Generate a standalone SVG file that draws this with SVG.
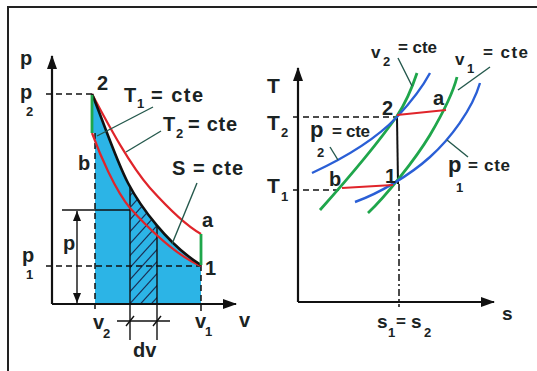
<svg xmlns="http://www.w3.org/2000/svg" width="537" height="371" viewBox="0 0 537 371">
<defs>
<style>
text{font-family:"Liberation Sans",Arial,sans-serif;font-weight:bold;fill:#1a2323}
.big{font-size:20px}
.sub{font-size:13px}
.mid{font-size:17px}
.ax{stroke:#111;stroke-width:2.2;fill:none}
.thin{stroke:#111;stroke-width:1.4;fill:none}
.dash{stroke:#111;stroke-width:1.5;stroke-dasharray:6 4;fill:none}
.dd{stroke:#111;stroke-width:1.5;stroke-dasharray:7 3 2 3;fill:none}
.red{stroke:#e0242a;stroke-width:2.2;fill:none}
.grn{stroke:#1fa64b;stroke-width:2.8;fill:none}
.blu{stroke:#2a5fd6;stroke-width:2.4;fill:none}
.lead{stroke:#24584c;stroke-width:1.4;fill:none}
.hatch{stroke:#1b2f55;stroke-width:1.2}
</style>
<marker id="arr" viewBox="0 0 14 10" refX="13" refY="5" markerWidth="14" markerHeight="10" markerUnits="userSpaceOnUse" orient="auto">
<path d="M0,0 L14,5 L0,10 Z" fill="#111"/>
</marker>
<marker id="arrs" viewBox="0 0 10 8" refX="10" refY="4" markerWidth="10" markerHeight="8" markerUnits="userSpaceOnUse" orient="auto-start-reverse">
<path d="M0,0 L10,4 L0,8 Z" fill="#111"/>
</marker>
<clipPath id="strip">
<path d="M130,187 L143,208 L157,227 L157,304 L130,304 Z"/>
</clipPath>
</defs>
<rect width="537" height="371" fill="#fff"/>
<path d="M8,371 L8,7 L537,7" stroke="#222" stroke-width="2" fill="none"/>

<g id="pv-diagram">
<g id="fill">
<path d="M92,94 C102,118 116,160 128,183 C140,206 168,245 201,265 L201,304 L95,304 L95,133 L92,133 Z" fill="#2cb4e6"/>
</g>
<g id="hatch" clip-path="url(#strip)">
<line class="hatch" x1="126" y1="200" x2="162" y2="160"/>
<line class="hatch" x1="126" y1="212" x2="162" y2="172"/>
<line class="hatch" x1="126" y1="224" x2="162" y2="184"/>
<line class="hatch" x1="126" y1="236" x2="162" y2="196"/>
<line class="hatch" x1="126" y1="248" x2="162" y2="208"/>
<line class="hatch" x1="126" y1="260" x2="162" y2="220"/>
<line class="hatch" x1="126" y1="272" x2="162" y2="232"/>
<line class="hatch" x1="126" y1="284" x2="162" y2="244"/>
<line class="hatch" x1="126" y1="296" x2="162" y2="256"/>
<line class="hatch" x1="126" y1="308" x2="162" y2="268"/>
<line class="hatch" x1="126" y1="320" x2="162" y2="280"/>
<line class="hatch" x1="126" y1="332" x2="162" y2="292"/>
</g>
<g id="pv-connectors">
<line class="ax" x1="52" y1="304" x2="52" y2="56" marker-end="url(#arr)"/>
<line class="ax" x1="52" y1="304" x2="236" y2="304" marker-end="url(#arr)"/>
<line class="dash" x1="46" y1="94" x2="92" y2="94"/>
<line class="dash" x1="46" y1="266" x2="201" y2="266"/>
<line class="dash" x1="95" y1="133" x2="95" y2="312"/>
<line class="dash" x1="201" y1="265" x2="201" y2="312"/>
<line class="thin" x1="62" y1="210" x2="130" y2="210"/>
<line class="thin" x1="77" y1="211" x2="77" y2="303" marker-start="url(#arrs)" marker-end="url(#arrs)"/>
<line class="thin" x1="130" y1="187" x2="130" y2="340"/>
<line class="thin" x1="157" y1="227" x2="157" y2="340"/>
<line class="thin" x1="117" y1="321" x2="170" y2="321"/>
<line class="thin" x1="126" y1="326" x2="134" y2="316"/>
<line class="thin" x1="153" y1="326" x2="161" y2="316"/>
<path class="red" d="M92,94 C110,128 130,165 150,188 C168,208 185,225 201,234"/>
<path class="red" d="M92,133 C100,155 115,190 130,208 C150,230 175,255 201,266"/>
<path d="M92,94 C102,118 116,160 128,183 C140,206 168,245 201,265" stroke="#111" stroke-width="2.6" fill="none"/>
<line class="grn" x1="92" y1="95" x2="92" y2="133"/>
<line class="grn" x1="201" y1="234" x2="201" y2="265"/>
<line class="lead" x1="153" y1="107" x2="97" y2="136"/>
<line class="lead" x1="161" y1="131" x2="126" y2="152"/>
<line class="lead" x1="197" y1="183" x2="172" y2="244"/>
</g>
<g id="pv-labels">
<text class="big" x="20" y="65">p</text>
<text class="big" x="20" y="99">p</text><text class="sub" x="26" y="116">2</text>
<text class="big" x="22" y="262">p</text><text class="sub" x="26" y="279">1</text>
<text class="big" x="63" y="250">p</text>
<text class="big" x="97" y="90">2</text>
<text class="big" x="78" y="170">b</text>
<text class="big" x="202" y="227">a</text>
<text class="big" x="205" y="275">1</text>
<text class="big" x="124" y="102">T</text><text class="sub" x="137" y="108">1</text><text class="big" x="151" y="102" textLength="52" lengthAdjust="spacing">= cte</text>
<text class="big" x="163" y="131">T</text><text class="sub" x="176" y="138">2</text><text class="big" x="188" y="131" textLength="49" lengthAdjust="spacing">= cte</text>
<text class="big" x="172" y="175" textLength="71" lengthAdjust="spacing">S = cte</text>
<text class="big" x="93" y="329">v</text><text class="sub" x="103" y="338">2</text>
<text class="big" x="195" y="328">v</text><text class="sub" x="205" y="336">1</text>
<text class="big" x="239" y="327">v</text>
<text class="big" x="133" y="357">dv</text>
</g>
</g>

<g id="ts-diagram">
<g id="ts-connectors">
<line class="ax" x1="298" y1="302" x2="298" y2="68" marker-end="url(#arr)"/>
<line class="ax" x1="298" y1="302" x2="494" y2="302" marker-end="url(#arr)"/>
<line class="dash" x1="293" y1="117" x2="397" y2="117"/>
<line class="dash" x1="293" y1="190" x2="340" y2="190"/>
<line x1="397" y1="117" x2="398" y2="184" stroke="#111" stroke-width="2"/>
<line class="dd" x1="399" y1="184" x2="399" y2="307"/>
<path class="grn" d="M320,210 C345,182 380,140 397,116 C405,104 412,88 417,73"/>
<path class="grn" d="M368,213 C385,197 415,160 430,135 C440,118 452,97 457,77"/>
<path class="blu" d="M312,173 C340,160 375,140 397,117 C410,103 422,88 430,73"/>
<path class="blu" d="M355,202 C380,193 410,175 430,157 C450,139 472,110 480,83"/>
<line class="red" x1="397" y1="115" x2="446" y2="110"/>
<line class="red" x1="342" y1="188" x2="393" y2="185"/>
<line class="lead" x1="398" y1="58" x2="412" y2="86"/>
<line class="lead" x1="490" y1="67" x2="458" y2="90"/>
<line class="lead" x1="330" y1="147" x2="338" y2="160"/>
<line class="lead" x1="468" y1="157" x2="447" y2="140"/>
</g>
<g id="ts-labels">
<text class="big" x="267" y="93" style="font-size:21px">T</text>
<text class="big" x="267" y="130" style="font-size:21px">T</text><text class="sub" x="281" y="137">2</text>
<text class="big" x="267" y="193" style="font-size:21px">T</text><text class="sub" x="281" y="201">1</text>
<text class="big" x="382" y="115">2</text>
<text class="big" x="385" y="183">1</text>
<text class="big" x="433" y="105">a</text>
<text class="big" x="329" y="186">b</text>
<text class="mid" x="371" y="58">v</text><text class="sub" x="383" y="66">2</text><text class="mid" x="398" y="53" textLength="39" lengthAdjust="spacing">= cte</text>
<text class="mid" x="455" y="65">v</text><text class="sub" x="467" y="73">1</text><text class="mid" x="483" y="58" textLength="45" lengthAdjust="spacing">= cte</text>
<text class="big" x="310" y="137" style="font-size:22px">p</text><text class="sub" x="317" y="157">2</text><text class="mid" x="332" y="137" textLength="38" lengthAdjust="spacing">= cte</text>
<text class="big" x="448" y="172" style="font-size:22px">p</text><text class="sub" x="456" y="192">1</text><text class="mid" x="468" y="171" textLength="42" lengthAdjust="spacing">= cte</text>
<text class="big" x="377" y="328" style="font-size:19px">s</text><text class="sub" x="388" y="337">1</text><text class="mid" x="396" y="327">=</text><text class="big" x="411" y="328" style="font-size:19px">s</text><text class="sub" x="424" y="337">2</text>
<text class="big" x="502" y="320" style="font-size:19px">s</text>
</g>
</g>
</svg>
